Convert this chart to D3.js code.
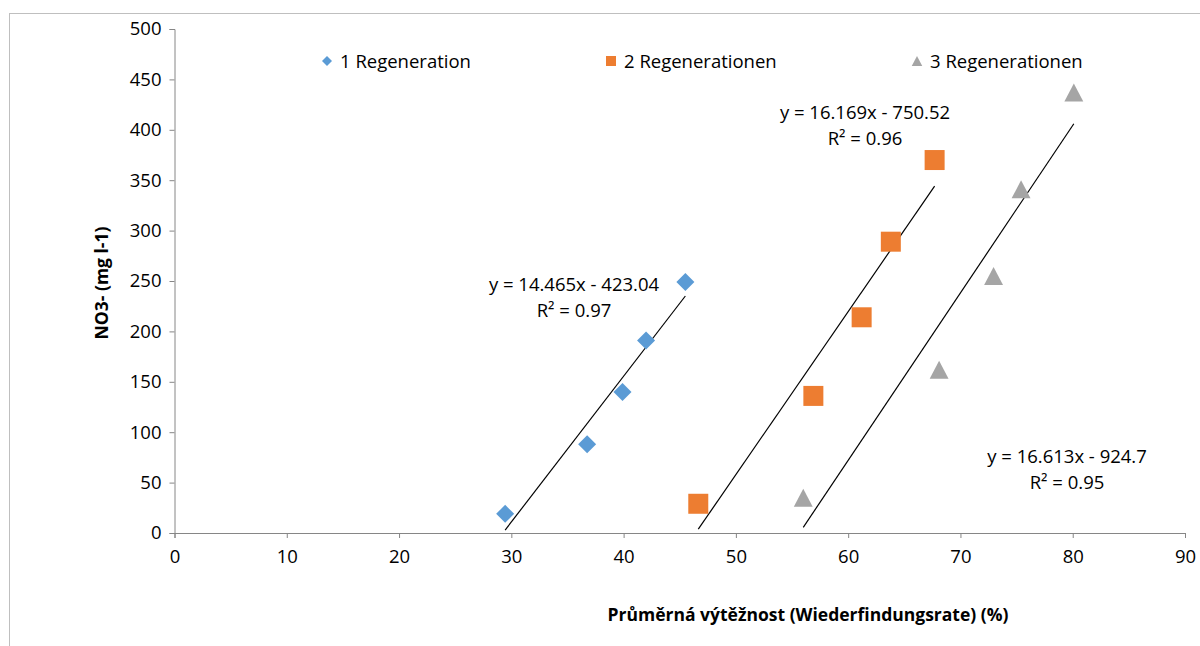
<!DOCTYPE html>
<html>
<head>
<meta charset="utf-8">
<script src="https://cdn.jsdelivr.net/npm/d3@7"></script>
<style>
  body { margin: 0; background: #fff; }
  svg text { font-family: "Open Sans", sans-serif; fill: #000; }
</style>
</head>
<body>
<div id="main-svg"></div>
<script>
// series
var seriesNames = ["1 Regeneration", "2 Regenerationen", "3 Regenerationen"];
var seriesColors = ["#5b9bd5", "#ed7d31", "#a5a5a5"];
var seriesShapes = ["diamond", "square", "triangle"];

var reg1X = [29.45, 36.75, 39.9, 42.0, 45.5];
var reg1Y = [19, 88, 140, 191, 249];
var reg2X = [46.65, 56.9, 61.2, 63.8, 67.7];
var reg2Y = [29, 136, 214, 289, 370];
var reg3X = [56.0, 68.1, 72.95, 75.4, 80.1];
var reg3Y = [35, 162, 255, 341, 437];

// trendline coefficients (slope, intercept, r2)
var slopes = [14.465, 16.169, 16.613];
var intercepts = [-423.04, -750.52, -924.7];
var r2s = ["0.97", "0.96", "0.95"];

var xTicks = [0, 10, 20, 30, 40, 50, 60, 70, 80, 90];
var yTicks = [0, 50, 100, 150, 200, 250, 300, 350, 400, 450, 500];

var width = 1200, height = 646;
var fontSize = "18.5px";

var x = d3.scaleLinear().domain([0, 90]).range([174.5, 1185]);
var y = d3.scaleLinear().domain([0, 500]).range([533, 29]);

var canvas = d3.select("#main-svg")
    .append("svg")
    .attr("width", width)
    .attr("height", height);

// chart frame
canvas.append("rect")
    .attr("x", 9.5)
    .attr("y", 13.5)
    .attr("width", 1200)
    .attr("height", 700)
    .attr("fill", "none")
    .attr("stroke", "#bfbfbf");

var yAxis = canvas.append("g")
    .attr("transform", "translate(" + x(0) + ",0)")
    .call(d3.axisLeft(y).tickValues(yTicks).tickSize(5).tickPadding(8));

var xAxis = canvas.append("g")
    .attr("transform", "translate(0," + y(0) + ")")
    .call(d3.axisBottom(x).tickValues(xTicks).tickSize(5).tickPadding(12));

[xAxis, yAxis].forEach(function(ax) {
  ax.select(".domain").attr("stroke", "#868686");
  ax.selectAll(".tick line").attr("stroke", "#868686");
  ax.selectAll(".tick text").style("font-size", fontSize).style("font-family", "Open Sans");
});

// axis titles
canvas.append("text")
    .attr("transform", "translate(108,283) rotate(-90)")
    .attr("text-anchor", "middle")
    .style("font-size", "17.5px")
    .style("font-weight", "bold")
    .text("NO3- (mg l-1)");

canvas.append("text")
    .attr("x", 808)
    .attr("y", 621)
    .attr("text-anchor", "middle")
    .style("font-size", "17.5px")
    .style("font-weight", "bold")
    .text("Průměrná výtěžnost (Wiederfindungsrate) (%)");

function marker(shape, size) {
  var h = size / 2;
  if (shape == "diamond") {
    return "M0," + (-h) + "L" + h + ",0L0," + h + "L" + (-h) + ",0Z";
  }
  if (shape == "square") {
    return "M" + (-h) + "," + (-h) + "h" + size + "v" + size + "h" + (-size) + "Z";
  }
  return "M0," + (-h) + "L" + (h * 1.05) + "," + h + "L" + (-h * 1.05) + "," + h + "Z";
}

var allX = [reg1X, reg2X, reg3X];
var allY = [reg1Y, reg2Y, reg3Y];
var markerSizes = [18, 20, 18];

// trendlines (drawn across each series' x range)
for (var s = 0; s < 3; s++) {
  var ext = d3.extent(allX[s]);
  var lineData = ext.map(function(v) { return [v, slopes[s] * v + intercepts[s]]; });
  canvas.append("path")
      .attr("d", d3.line().x(function(d) { return x(d[0]); }).y(function(d) { return y(d[1]); })(lineData))
      .attr("stroke", "#000")
      .attr("stroke-width", 1.2)
      .attr("fill", "none");
}

// points
for (var s = 0; s < 3; s++) {
  var pts = allX[s].map(function(v, i) { return [v, allY[s][i]]; });
  canvas.append("g").selectAll("path")
      .data(pts)
      .enter().append("path")
      .attr("transform", function(d) { return "translate(" + x(d[0]) + "," + y(d[1]) + ")"; })
      .attr("d", marker(seriesShapes[s], markerSizes[s]))
      .attr("fill", seriesColors[s]);
}

// equation labels
var eqPos = [[574, 291, 317], [865, 119, 145], [1067, 463, 489]];
for (var s = 0; s < 3; s++) {
  var sign = intercepts[s] < 0 ? " - " : " + ";
  canvas.append("text")
      .attr("x", eqPos[s][0])
      .attr("y", eqPos[s][1])
      .attr("text-anchor", "middle")
      .style("font-size", fontSize)
      .text("y = " + slopes[s] + "x" + sign + Math.abs(intercepts[s]));
  canvas.append("text")
      .attr("x", eqPos[s][0])
      .attr("y", eqPos[s][2])
      .attr("text-anchor", "middle")
      .style("font-size", fontSize)
      .text("R² = " + r2s[s]);
}

// legend
var legX = [327, 611, 917];
var legend = canvas.selectAll(".legend")
    .data(seriesNames)
    .enter().append("g")
    .attr("class", "legend")
    .attr("transform", function(d, i) { return "translate(" + legX[i] + ",61)"; });

legend.append("path")
    .attr("d", function(d, i) { return marker(seriesShapes[i], 10); })
    .attr("fill", function(d, i) { return seriesColors[i]; });

legend.append("text")
    .attr("x", 13)
    .attr("y", 6.5)
    .style("font-size", fontSize)
    .text(function(d) { return d; });
</script>
</body>
</html>
